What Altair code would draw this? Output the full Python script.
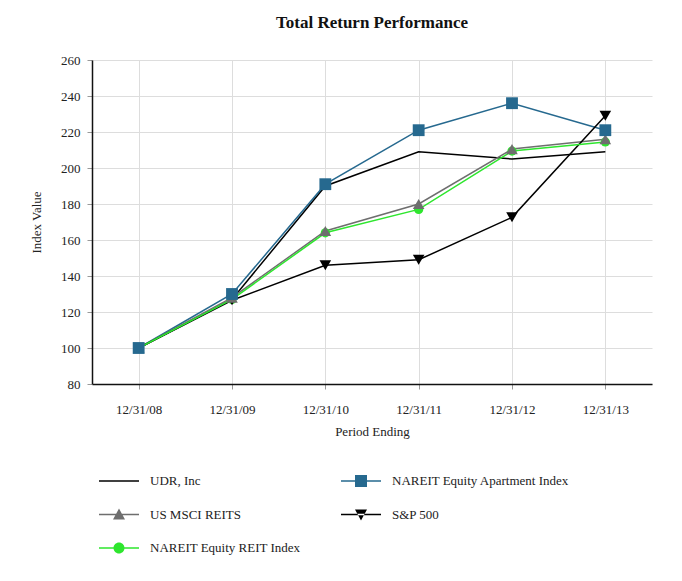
import pandas as pd
import altair as alt

# Values
periods = ["12/31/08", "12/31/09", "12/31/10", "12/31/11", "12/31/12", "12/31/13"]
udr = [100, 127, 190, 209, 205, 209]
nareit_apt = [100, 130, 191, 221, 236, 221]
us_msci = [100, 128, 165, 180, 210.5, 216]
sp500 = [100, 126.5, 146, 149, 172.6, 229]
nareit_reit = [100, 127, 164, 177, 209.4, 214.5]

series = ["UDR, Inc", "NAREIT Equity Apartment Index", "US MSCI REITS",
          "S&P 500", "NAREIT Equity REIT Index"]
values = [udr, nareit_apt, us_msci, sp500, nareit_reit]

# Styles per series
line_colors = ["#000000", "#26698f", "#6e6e6e", "#000000", "#2ee62e"]

# Markers drawn in the plot, bottom to top: (series, shape, size)
markers = [
    ("NAREIT Equity REIT Index", "circle", 85),
    ("S&P 500", "triangle-down", 135),
    ("US MSCI REITS", "triangle-up", 135),
    ("NAREIT Equity Apartment Index", "square", 140),
]

# Legend symbols: thin bar (the line) plus marker, unit = 10px
bar = "M-1,-0.075L3,-0.075L3,0.075L-1,0.075Z"
legend_paths = [
    bar,
    bar + "M0.4,-0.6L1.6,-0.6L1.6,0.6L0.4,0.6Z",
    bar + "M1,-0.6L1.6,0.5L0.4,0.5Z",
    bar + "M1,0.6L1.6,-0.5L0.4,-0.5Z",
    bar + "M1.55,0A0.55,0.55,0,1,1,0.45,0A0.55,0.55,0,1,1,1.55,0Z",
]

rows = []
for name, vals in zip(series, values):
    for p, v in zip(periods, vals):
        rows.append({"series": name, "period": p, "value": v})
df = pd.DataFrame(rows)

font = "Liberation Serif"

x_enc = alt.X(
    "period:N", sort=periods, title="Period Ending",
    scale=alt.Scale(type="point", padding=0.5),
    axis=alt.Axis(labelAngle=0, grid=True, labelPadding=14, titlePadding=9),
)
y_enc = alt.Y(
    "value:Q", title="Index Value",
    scale=alt.Scale(domain=[80, 260], nice=False),
    axis=alt.Axis(values=list(range(80, 261, 20)), labelPadding=7, titlePadding=17),
)
color_enc = alt.Color("series:N", sort=series,
                      scale=alt.Scale(domain=series, range=line_colors), legend=None)

lines = alt.Chart(df).mark_line(strokeWidth=1.5).encode(
    x=x_enc, y=y_enc, color=color_enc,
)

marker_layers = []
for name, shape, size in markers:
    marker_layers.append(
        alt.Chart(df).transform_filter(alt.datum.series == name)
        .mark_point(filled=True, opacity=1, shape=shape, size=size)
        .encode(x=x_enc, y=y_enc, color=color_enc)
    )

# One empty layer per legend entry, laid out in two columns
legend_layers = []
for i, (name, path, col) in enumerate(zip(series, legend_paths, line_colors)):
    legend_layers.append(
        alt.Chart(df).transform_filter("false")
        .mark_point(filled=True, opacity=1, fill=col)
        .encode(
            x=x_enc,
            y=y_enc,
            shape=alt.Shape(
                "series:N",
                scale=alt.Scale(domain=[name], range=[path]),
                legend=alt.Legend(
                    title=None, orient="none",
                    legendX=6 + (i % 2) * 242, legendY=410 + (i // 2) * 33.5,
                    symbolSize=400, labelOffset=30,
                    labelFont=font, labelFontSize=13, labelColor="#222222",
                    labelLimit=300,
                ),
            ),
        )
    )

chart = alt.layer(lines, *marker_layers, *legend_layers).resolve_scale(
    shape="independent"
).properties(
    width=560,
    height=324,
    padding={"left": 22, "top": 6, "right": 5, "bottom": 5},
    title=alt.Title("Total Return Performance", font=font, fontSize=17,
                    fontWeight="bold", color="#111111", offset=22),
).configure_view(
    stroke=None
).configure_axis(
    labelFont=font, labelFontSize=13, labelColor="#222222",
    titleFont=font, titleFontSize=13, titleFontWeight="normal", titleColor="#222222",
    gridColor="#dddddd", gridWidth=1,
    domainColor="#111111", domainWidth=1.5,
    tickColor="#999999", tickSize=5,
)

chart.save("out.html", embed_options={"renderer": "svg", "actions": False})
